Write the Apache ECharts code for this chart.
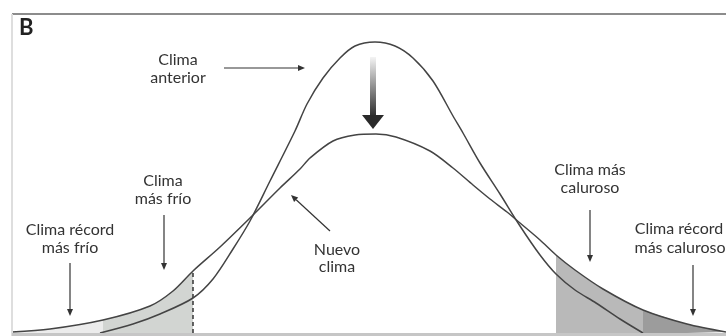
<!DOCTYPE html>
<html><head><meta charset="utf-8">
<script src="https://cdn.jsdelivr.net/npm/echarts@6/dist/echarts.min.js"></script>
<style>html,body{margin:0;padding:0;background:#fff}#c{width:726px;height:336px}</style>
</head><body><div id="c"></div>
<script>
// Horizontal position (x) and relative frequency (height above baseline)
const climaAnterior = [[100,0],[133,9],[160,19],[193,35],[213,54],[233,84],[250,112],[270,152],[295,202],[307,229],[323,255],[340,275],[355,287],[375,291],[395,287],[413,275],[433,252],[453,217],[463,200],[480,170],[500,139],[520,107],[540,78],[556,59],[575,43],[596,30],[620,14],[643,0]];
const nuevoClima = [[12,1],[50,4],[103,13],[150,27],[173,42],[193,62],[220,86],[250,115],[280,145],[300,164],[310,175],[333,192],[355,198],[376,199],[396,196],[430,182],[453,165],[473,148],[490,134],[507,121],[520,110],[540,93],[556,78],[575,63],[603,44],[643,23],[687,9],[726,1]];
// Region boundaries along x: récord frío | más frío | ... | más caluroso | récord caluroso
const regionBounds = [12, 103, 193, 556, 643, 726];
const regionColors = ['#ececec', '#d2d5d2', null, '#b9b9b9', '#9c9c9c'];

const fillSeries = [];
for (let i = 0; i < regionBounds.length - 1; i++) {
  if (!regionColors[i]) continue;
  const a = regionBounds[i], b = regionBounds[i + 1];
  fillSeries.push({
    type: 'line', data: nuevoClima.filter(p => p[0] >= a && p[0] <= b),
    smooth: 0.3, symbol: 'none', lineStyle: {width: 0},
    areaStyle: {color: regionColors[i], opacity: 1}, z: 1, silent: true
  });
}
const dashX = regionBounds[2];
const dashTop = nuevoClima.find(p => p[0] === dashX)[1];

const chart = echarts.init(document.getElementById('c'));
const FONT = '16px Lato';
const TC = '#333';
function txt(s, x, y) {
  return {type: 'text', z: 10, style: {text: s, x: x, y: y, font: FONT, fill: TC, align: 'center', verticalAlign: 'middle'}};
}
function arrow(x1, y1, x2, y2) {
  const ang = Math.atan2(y2 - y1, x2 - x1), L = 7, Wd = 3;
  const bx = x2 - L * Math.cos(ang), by = y2 - L * Math.sin(ang);
  const nx = -Math.sin(ang) * Wd, ny = Math.cos(ang) * Wd;
  return [
    {type: 'line', z: 10, shape: {x1: x1, y1: y1, x2: bx, y2: by}, style: {stroke: '#333', lineWidth: 1.2}},
    {type: 'polygon', z: 10, shape: {points: [[x2, y2], [bx + nx, by + ny], [bx - nx, by - ny]]}, style: {fill: '#333'}}
  ];
}
const graphics = [
  {type: 'rect', shape: {x: 12, y: 13, width: 714, height: 2}, style: {fill: '#8c8c8c'}, z: 5},
  {type: 'rect', shape: {x: 11, y: 14, width: 2, height: 322}, style: {fill: '#dedede'}, z: 5},
  {type: 'rect', shape: {x: 12, y: 333, width: 714, height: 3}, style: {fill: '#c6c6c6'}, z: 5},
  {type: 'text', z: 10, style: {text: 'B', x: 19, y: 28, font: 'bold 22px Lato', fill: '#222', verticalAlign: 'middle'}},
  txt('Clima', 178, 60), txt('anterior', 178, 78),
  txt('Clima', 163, 181), txt('más frío', 163, 199),
  txt('Clima récord', 70, 230), txt('más frío', 70, 248),
  txt('Nuevo', 337, 250), txt('clima', 337, 267),
  txt('Clima más', 590, 170), txt('caluroso', 590, 188),
  txt('Clima récord', 679, 229), txt('más caluroso', 680, 248),
  ...arrow(224, 68, 305, 68),
  ...arrow(164, 215, 164, 270),
  ...arrow(70, 263, 70, 316),
  ...arrow(330, 231, 291, 195),
  ...arrow(590, 210, 590, 262),
  ...arrow(693, 265, 693, 316),
  {type: 'rect', z: 10, shape: {x: 370, y: 57, width: 6, height: 60},
   style: {fill: new echarts.graphic.LinearGradient(0, 0, 0, 1, [{offset: 0, color: '#f4f4f4'}, {offset: 1, color: '#2a2a2a'}])}},
  {type: 'polygon', z: 10, shape: {points: [[362, 115], [384, 115], [373, 129]]}, style: {fill: '#2a2a2a'}}
];

chart.setOption({
  backgroundColor: '#fff',
  animation: false,
  grid: {left: 12, right: 0, top: 14, bottom: 3},
  xAxis: {type: 'value', min: 12, max: 726, show: false},
  yAxis: {type: 'value', min: 0, max: 319, show: false},
  series: [
    ...fillSeries,
    {type: 'line', data: [[dashX, 0], [dashX, dashTop]], symbol: 'none', lineStyle: {color: '#333', width: 1.5, type: [4, 3]}, z: 3, silent: true},
    {type: 'line', name: 'Clima anterior', data: climaAnterior, smooth: 0.3, symbol: 'none', lineStyle: {color: '#444', width: 1.5}, z: 4},
    {type: 'line', name: 'Nuevo clima', data: nuevoClima, smooth: 0.3, symbol: 'none', lineStyle: {color: '#444', width: 1.5}, z: 4}
  ],
  graphic: graphics
});
</script></body></html>
